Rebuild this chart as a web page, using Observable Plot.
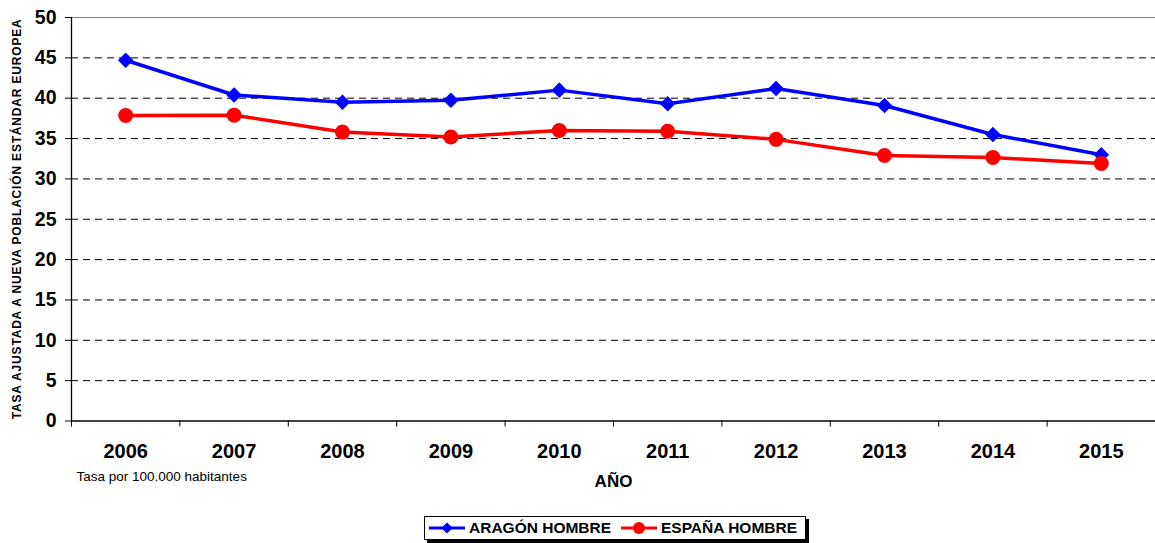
<!DOCTYPE html>
<html>
<head>
<meta charset="utf-8">
<script src="https://cdn.jsdelivr.net/npm/d3@7"></script>
<script src="https://cdn.jsdelivr.net/npm/@observablehq/plot@0.6"></script>
<style>
  body { margin: 0; background: #fff; font-family: "Liberation Sans", Arial, sans-serif; }
  #wrap { position: relative; width: 1155px; height: 543px; }
  #legend { position: absolute; left: 424px; top: 516px; width: 380px; height: 22px;
    border: 1px solid #000; background: #fff; box-shadow: 3px 3px 0 #000;
    font-weight: bold; font-size: 15.5px; color: #000; }
  #legend svg { position: absolute; top: 3px; display: block; }
  #legend span { position: absolute; top: 2px; white-space: nowrap; line-height: 18px; }
</style>
</head>
<body>
<div id="wrap">
  <div id="chart"></div>
  <div id="legend"></div>
</div>
<script>
const years = [2006, 2007, 2008, 2009, 2010, 2011, 2012, 2013, 2014, 2015];
const aragonHombre = [44.7, 40.4, 39.5, 39.75, 41.0, 39.3, 41.2, 39.1, 35.5, 33.0];
const espanaHombre = [37.85, 37.9, 35.8, 35.2, 36.0, 35.9, 34.9, 32.9, 32.65, 31.9];
const seriesNames = ["ARAGÓN HOMBRE", "ESPAÑA HOMBRE"];
const yTicks = [0, 5, 10, 15, 20, 25, 30, 35, 40, 45, 50];
const yTitle = "TASA AJUSTADA A NUEVA POBLACIÓN ESTÁNDAR EUROPEA";
const xTitle = "AÑO";
const note = "Tasa por 100.000 habitantes";

const aragon = years.map((y, i) => ({year: y, value: aragonHombre[i]}));
const espana = years.map((y, i) => ({year: y, value: espanaHombre[i]}));
const dashed = yTicks.filter(v => v > 0 && v < 50);
const boundaries = d3.range(years[0] - 0.5, years[years.length - 1] + 1, 1);

const chart = Plot.plot({
  width: 1155,
  height: 510,
  marginLeft: 71,
  marginRight: 0,
  marginTop: 17,
  marginBottom: 89.5,
  style: {fontFamily: "'Liberation Sans', Arial, sans-serif", background: "#fff", color: "#000", overflow: "visible"},
  x: {domain: [years[0] - 0.5, years[years.length - 1] + 0.5]},
  y: {domain: [0, 50]},
  marks: [
    Plot.ruleY(dashed, {stroke: "#000", strokeDasharray: "7,5", strokeWidth: 1}),
    Plot.ruleY([50], {stroke: "#808080", strokeWidth: 1}),
    Plot.ruleY([0], {stroke: "#000", strokeWidth: 1.3}),
    Plot.ruleX([years[0] - 0.5], {stroke: "#000", strokeWidth: 1.3}),
    Plot.axisY({ticks: yTicks, tickSize: 6, tickPadding: 9, tickFormat: d => String(d), fontSize: 19.5, fontWeight: "bold", label: null}),
    Plot.axisX({ticks: boundaries, tickSize: 6, tickFormat: () => "", label: null}),
    Plot.axisX({ticks: years, tickSize: 0, tickPadding: 22.5, tickFormat: d => String(d), fontSize: 20, fontWeight: "bold", label: null}),
    Plot.text([yTitle], {frameAnchor: "left", textAnchor: "middle", rotate: -90, dx: -54, fontSize: 12, fontWeight: "bold", className: "ytitle"}),
    Plot.text([note], {frameAnchor: "bottom-left", textAnchor: "start", dx: 5, dy: 60, fontSize: 13.5}),
    Plot.text([xTitle], {frameAnchor: "bottom", dy: 66, fontSize: 17, fontWeight: "bold"}),
    Plot.line(aragon, {x: "year", y: "value", stroke: "#0000ff", strokeWidth: 3.5}),
    Plot.dot(aragon, {x: "year", y: "value", symbol: "diamond2", r: 7, fill: "#0000ff", stroke: "none"}),
    Plot.line(espana, {x: "year", y: "value", stroke: "#ff0000", strokeWidth: 3.5}),
    Plot.dot(espana, {x: "year", y: "value", symbol: "circle", r: 7.5, fill: "#ff0000", stroke: "none"})
  ]
});
document.getElementById("chart").appendChild(chart);
d3.select(chart).selectAll(".ytitle text").attr("textLength", 400).attr("lengthAdjust", "spacing");

// Legend
const legend = d3.select("#legend");
const s1 = legend.append("svg").attr("width", 38).attr("height", 16).style("left", "3px");
s1.append("line").attr("x1", 1).attr("x2", 37).attr("y1", 8).attr("y2", 8).attr("stroke", "#0000ff").attr("stroke-width", 3);
s1.append("path").attr("d", d3.symbol(d3.symbolDiamond2, 80)()).attr("transform", "translate(19,8)").attr("fill", "#0000ff");
legend.append("span").text(seriesNames[0]).style("left", "44px");
const s2 = legend.append("svg").attr("width", 38).attr("height", 16).style("left", "195px");
s2.append("line").attr("x1", 1).attr("x2", 37).attr("y1", 8).attr("y2", 8).attr("stroke", "#ff0000").attr("stroke-width", 3);
s2.append("circle").attr("cx", 19).attr("cy", 8).attr("r", 6).attr("fill", "#ff0000");
legend.append("span").text(seriesNames[1]).style("left", "236px");
</script>
</body>
</html>
